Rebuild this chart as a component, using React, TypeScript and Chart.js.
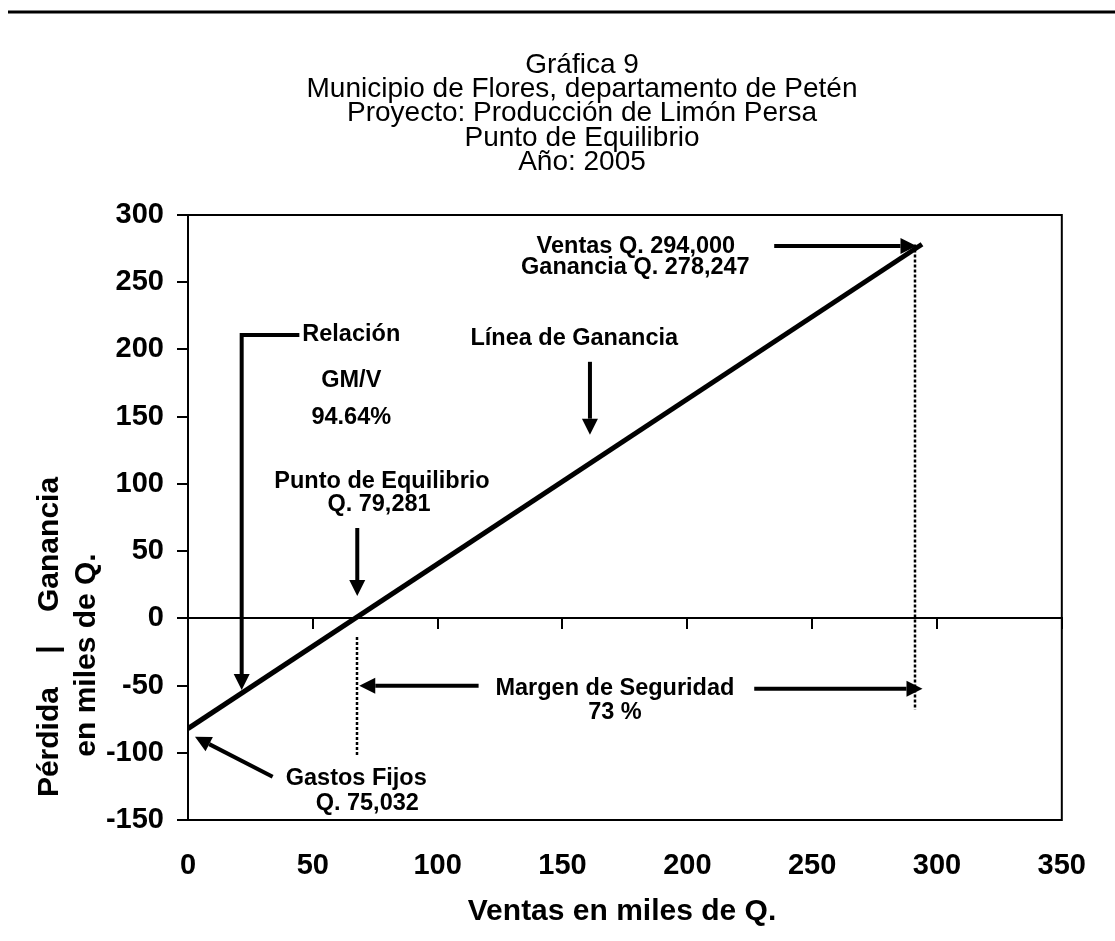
import React, { useEffect, useRef } from 'react';
import { Chart, registerables } from 'chart.js';

Chart.register(...registerables);

// ---- data ----
const ventas = [0, 294]; // miles de Q.
const ganancia = [-82, 278.247]; // miles de Q.
const xMin = 0;
const xMax = 350;
const xStep = 50;
const yMin = -150;
const yMax = 300;
const yStep = 50;

const titleLines = [
  'Gráfica 9',
  'Municipio de Flores, departamento de Petén',
  'Proyecto: Producción de Limón Persa',
  'Punto de Equilibrio',
  'Año: 2005',
];
const yTitleLines = ['Pérdida    |    Ganancia', 'en miles de Q.'];
const xTitle = 'Ventas en miles de Q.';

// annotation texts, anchored in data coordinates
const noteTexts = [
  'Relación', 'GM/V', '94.64%',
  'Línea de Ganancia',
  'Ventas Q. 294,000', 'Ganancia Q. 278,247',
  'Punto de Equilibrio', 'Q. 79,281',
  'Margen de Seguridad', '73 %',
  'Gastos Fijos', 'Q. 75,032',
];
const noteX = [65.4, 65.4, 65.4, 154.7, 179.4, 179.2, 77.7, 76.5, 171.0, 171.0, 67.4, 71.8];
const noteY = [210.8, 176.6, 149.1, 207.8, 276.6, 261.3, 102.1, 84.3, -52.3, -70.2, -119.5, -137.4];

// straight arrows: [fromX, fromY, toX, toY]
const arrowSegs = [
  [161.0, 190.8, 161.0, 136.6],
  [234.8, 276.9, 291.8, 276.9],
  [67.8, 67.2, 67.8, 16.6],
  [116.4, -50.1, 68.6, -50.1],
  [226.8, -52.3, 294.2, -52.3],
  [33.9, -117.9, 2.8, -88.1],
];
// elbow arrow (Relación GM/V)
const elbowX = [44.6, 21.5, 21.5];
const elbowY = [210.8, 210.8, -53.3];
// dotted verticals: [x, y1, y2]
const dottedLines = [
  [67.8, -13.9, -103],
  [291.0, 278, -68],
];

const FONT = "'Liberation Sans', Arial, Helvetica, sans-serif";

function drawArrowHead(ctx: CanvasRenderingContext2D, fx: number, fy: number, tx: number, ty: number) {
  const ang = Math.atan2(ty - fy, tx - fx);
  const len = 16;
  const half = 8;
  const bx = tx - len * Math.cos(ang);
  const by = ty - len * Math.sin(ang);
  ctx.beginPath();
  ctx.moveTo(tx, ty);
  ctx.lineTo(bx + half * Math.sin(ang), by - half * Math.cos(ang));
  ctx.lineTo(bx - half * Math.sin(ang), by + half * Math.cos(ang));
  ctx.closePath();
  ctx.fill();
  return [bx, by];
}

const overlayPlugin = {
  id: 'overlay',
  afterDraw(chart: any) {
    const { ctx, chartArea: a, scales } = chart;
    const X = (v: number) => scales.x.getPixelForValue(v);
    const Y = (v: number) => scales.y.getPixelForValue(v);
    ctx.save();
    ctx.fillStyle = '#000';
    ctx.strokeStyle = '#000';

    // top rule
    ctx.fillRect(8, 10.5, 1107, 3);

    // plot box
    ctx.lineWidth = 2;
    ctx.strokeRect(a.left, a.top, a.right - a.left, a.bottom - a.top);

    // title
    ctx.font = `28px ${FONT}`;
    ctx.textAlign = 'center';
    ctx.textBaseline = 'middle';
    titleLines.forEach((t, i) => ctx.fillText(t, 582, 65 + i * 24.3));

    // x title
    ctx.font = `bold 30px ${FONT}`;
    ctx.textBaseline = 'alphabetic';
    ctx.fillText(xTitle, 622, 920);

    // y title (rotated)
    ctx.save();
    ctx.translate(50, 637);
    ctx.rotate(-Math.PI / 2);
    ctx.textBaseline = 'middle';
    ctx.fillText(yTitleLines[0], 0, 0);
    ctx.restore();
    ctx.save();
    ctx.translate(87, 655);
    ctx.rotate(-Math.PI / 2);
    ctx.textBaseline = 'middle';
    ctx.fillText(yTitleLines[1], 0, 0);
    ctx.restore();

    // dotted lines
    ctx.save();
    ctx.lineWidth = 2.5;
    ctx.setLineDash([3, 2]);
    dottedLines.forEach(([x, y1, y2]) => {
      const px = Math.round(X(x));
      ctx.beginPath();
      ctx.moveTo(px, Y(y1));
      ctx.lineTo(px, Y(y2));
      ctx.stroke();
    });
    ctx.restore();

    // arrows
    ctx.lineWidth = 4;
    ctx.lineCap = 'butt';
    arrowSegs.forEach(([fx, fy, tx, ty]) => {
      const p1x = X(fx), p1y = Y(fy), p2x = X(tx), p2y = Y(ty);
      const [bx, by] = drawArrowHead(ctx, p1x, p1y, p2x, p2y);
      ctx.beginPath();
      ctx.moveTo(p1x, p1y);
      ctx.lineTo(bx, by);
      ctx.stroke();
    });
    // elbow arrow
    {
      const pts = elbowX.map((x, i) => [X(x), Y(elbowY[i])]);
      const n = pts.length;
      const [bx, by] = drawArrowHead(ctx, pts[n - 2][0], pts[n - 2][1], pts[n - 1][0], pts[n - 1][1]);
      ctx.beginPath();
      ctx.moveTo(pts[0][0], pts[0][1]);
      for (let i = 1; i < n - 1; i++) ctx.lineTo(pts[i][0], pts[i][1]);
      ctx.lineTo(bx, by);
      ctx.stroke();
    }

    // annotation texts
    ctx.font = `bold 23.5px ${FONT}`;
    ctx.textAlign = 'center';
    ctx.textBaseline = 'middle';
    noteTexts.forEach((t, i) => ctx.fillText(t, X(noteX[i]), Y(noteY[i])));

    ctx.restore();
  },
};

export default function App() {
  const ref = useRef<HTMLCanvasElement | null>(null);

  useEffect(() => {
    if (!ref.current) return;
    const tickFont = { family: FONT, size: 29, weight: 'bold' as const };
    const chart = new Chart(ref.current, {
      type: 'scatter',
      data: {
        datasets: [
          {
            label: 'Línea de Ganancia',
            data: ventas.map((v, i) => ({ x: v, y: ganancia[i] })),
            showLine: true,
            borderColor: '#000',
            backgroundColor: '#000',
            borderWidth: 5,
            pointRadius: 0,
            pointHoverRadius: 0,
          },
        ],
      },
      options: {
        responsive: false,
        animation: false,
        devicePixelRatio: 1,
        layout: { padding: { left: 0, top: 215, right: 49, bottom: 0 } },
        plugins: {
          legend: { display: false },
          title: { display: false },
          tooltip: { enabled: false },
        },
        scales: {
          x: {
            type: 'linear',
            min: xMin,
            max: xMax,
            position: { y: 0 } as any,
            ticks: { stepSize: xStep, display: false },
            grid: { drawOnChartArea: false, drawTicks: true, tickLength: 10, color: '#000', lineWidth: 2 },
            border: { display: true, color: '#000', width: 2 },
          },
          x2: {
            type: 'linear',
            min: xMin,
            max: xMax,
            position: 'bottom',
            ticks: { stepSize: xStep, font: tickFont, color: '#000', padding: 29, maxRotation: 0 },
            grid: { display: false, drawTicks: false },
            border: { display: false },
            afterFit: (s: any) => { s.height = 121; },
          },
          y: {
            type: 'linear',
            min: yMin,
            max: yMax,
            position: 'left',
            ticks: { stepSize: yStep, font: tickFont, color: '#000', padding: 13 },
            grid: { drawOnChartArea: false, drawTicks: true, tickLength: 11, color: '#000', lineWidth: 2 },
            border: { display: true, color: '#000', width: 2 },
            afterFit: (s: any) => { s.width = 188; },
          },
        },
      },
      plugins: [overlayPlugin],
    });
    return () => chart.destroy();
  }, []);

  return (
    <canvas
      ref={ref}
      width={1115}
      height={941}
      style={{ position: 'fixed', left: 0, top: 0, width: 1115, height: 941, background: '#fff' }}
    />
  );
}
